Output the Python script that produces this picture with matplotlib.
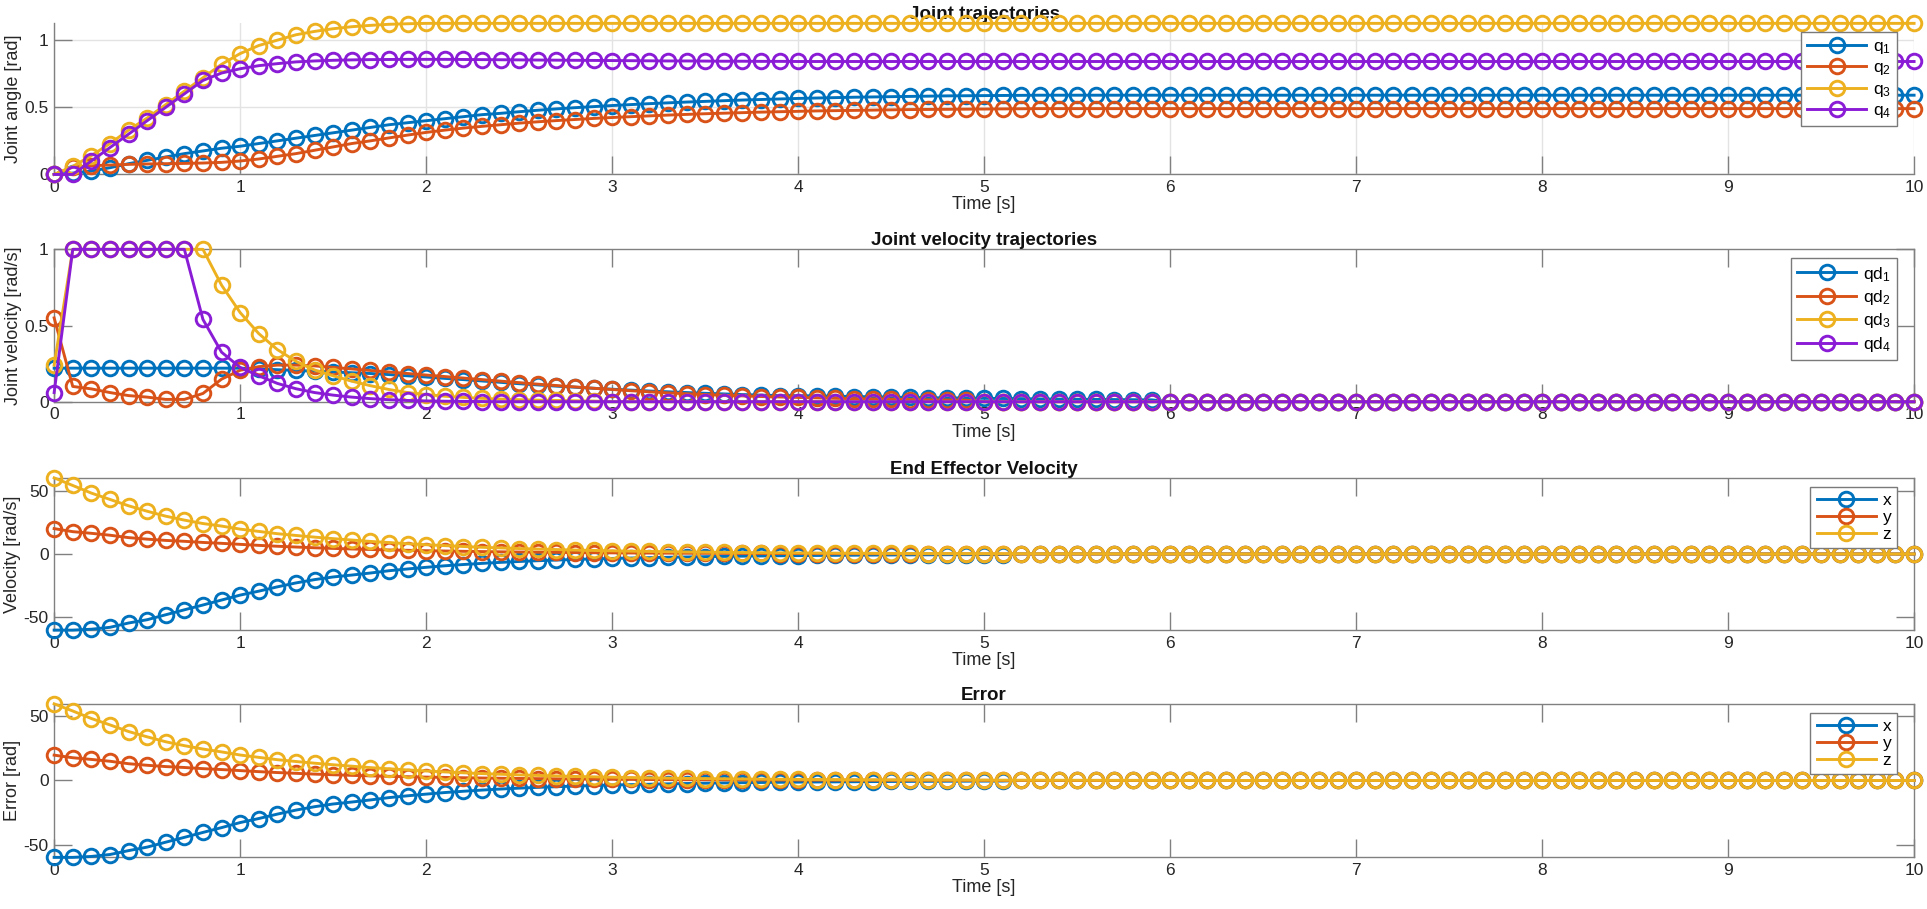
import matplotlib
matplotlib.use("Agg")
import matplotlib.pyplot as plt
import numpy as np
from matplotlib.ticker import FuncFormatter

plt.rcParams['font.family'] = ['Liberation Sans', 'DejaVu Sans']
plt.rcParams['mathtext.default'] = 'regular'

# sample times, 0.1 s step
time = np.round(np.arange(0, 10.05, 0.1), 1)

# joint angles [rad]
q1 = [0.0, 0.01, 0.025, 0.05, 0.08, 0.105, 0.13, 0.155, 0.175, 0.195,
      0.21, 0.23, 0.25, 0.27, 0.29, 0.31, 0.33, 0.35, 0.37, 0.385,
      0.40, 0.415, 0.43, 0.445, 0.455, 0.467, 0.478, 0.488, 0.497, 0.505,
      0.513, 0.52, 0.527, 0.533, 0.539, 0.544, 0.549, 0.554, 0.558, 0.562,
      0.566, 0.569, 0.572, 0.575, 0.577, 0.579, 0.581, 0.583, 0.585, 0.586,
      0.587, 0.588, 0.589] + [0.59] * 48
q2 = [0.0, 0.055, 0.065, 0.07, 0.075, 0.078, 0.08, 0.082, 0.085, 0.09,
      0.10, 0.115, 0.135, 0.155, 0.18, 0.205, 0.23, 0.25, 0.272, 0.293,
      0.313, 0.33, 0.345, 0.358, 0.37, 0.382, 0.392, 0.401, 0.409, 0.417,
      0.424, 0.43, 0.436, 0.442, 0.447, 0.452, 0.456, 0.46, 0.464, 0.467,
      0.47, 0.473, 0.475, 0.477, 0.479, 0.481, 0.483, 0.484, 0.485, 0.486,
      0.487, 0.488, 0.489] + [0.49] * 48
q3 = [0.0, 0.06, 0.14, 0.23, 0.33, 0.42, 0.52, 0.62, 0.72, 0.82,
      0.90, 0.96, 1.0, 1.04, 1.065, 1.085, 1.10, 1.11, 1.118, 1.122] + [1.125] * 81
q4 = [0.0, 0.0, 0.1, 0.2, 0.3, 0.4, 0.5, 0.6, 0.7, 0.755,
      0.787, 0.81, 0.825, 0.838, 0.845, 0.85, 0.853, 0.855, 0.856, 0.857,
      0.857, 0.857, 0.856, 0.855, 0.854, 0.853, 0.852, 0.851, 0.85, 0.849,
      0.848, 0.847, 0.846, 0.845, 0.845, 0.844, 0.843, 0.843, 0.842, 0.842] + [0.841] * 61

# joint velocities [rad/s]
qd1 = [0.22, 0.22, 0.22, 0.22, 0.22, 0.22, 0.22, 0.22, 0.22, 0.22,
       0.22, 0.215, 0.21, 0.205, 0.2, 0.195, 0.19, 0.185, 0.178, 0.17,
       0.162, 0.153, 0.145, 0.136, 0.127, 0.118, 0.11, 0.102, 0.095, 0.088,
       0.082, 0.076, 0.07, 0.065, 0.06, 0.055, 0.051, 0.047, 0.043, 0.04,
       0.04, 0.038, 0.036, 0.034, 0.032, 0.03, 0.028, 0.026, 0.025, 0.024,
       0.022, 0.021, 0.02, 0.018, 0.017, 0.016, 0.015, 0.014, 0.013, 0.012] + [0.0] * 41
qd2 = [0.55, 0.10, 0.084, 0.06, 0.04, 0.03, 0.015, 0.015, 0.054, 0.148,
       0.206, 0.23, 0.24, 0.24, 0.235, 0.225, 0.215, 0.205, 0.195, 0.185,
       0.175, 0.165, 0.155, 0.145, 0.135, 0.125, 0.115, 0.106, 0.097, 0.088,
       0.08, 0.072, 0.065, 0.058, 0.052, 0.047, 0.042, 0.038, 0.034, 0.031,
       0.028, 0.025, 0.022, 0.02, 0.018, 0.016, 0.014, 0.012, 0.011, 0.01] + [0.0] * 51
qd3 = [0.24, 1.0, 1.0, 1.0, 1.0, 1.0, 1.0, 1.0, 1.0, 0.765,
       0.585, 0.447, 0.342, 0.265, 0.208, 0.17, 0.135, 0.105, 0.08, 0.06,
       0.047, 0.036, 0.028, 0.022, 0.017, 0.013, 0.01, 0.008, 0.006, 0.004] + [0.0] * 71
qd4 = [0.06, 1.0, 1.0, 1.0, 1.0, 1.0, 1.0, 1.0, 0.54, 0.325,
       0.225, 0.17, 0.12, 0.085, 0.06, 0.043, 0.03, 0.02, 0.013, 0.008,
       0.005, 0.003, 0.002, 0.001] + [0.0] * 77

# end effector velocity
vel_x = [-60, -60, -59.3, -57.8, -54.4, -51.8, -47.9, -44, -40.2, -36.3,
         -32.4, -29.3, -25.9, -22.8, -20.2, -18.1, -16.6, -15, -13.2, -11.8,
         -10.5, -9.3, -8.3, -7.4, -6.6, -5.9, -5.3, -4.8, -4.3, -3.9,
         -3.5, -3.2, -2.9, -2.6, -2.35, -2.1, -1.9, -1.7, -1.55, -1.4,
         -1.27, -1.15, -1.05, -0.95, -0.86, -0.78, -0.71, -0.64, -0.58, -0.53,
         -0.48, -0.44] + [0.0] * 49
vel_y = [20, 17.6, 16.3, 14.8, 12.9, 11.7, 10.7, 10.0, 9.1, 8.4,
         7.6, 6.8, 6.1, 5.5, 4.9, 4.4, 3.95, 3.55, 3.2, 2.9,
         2.6, 2.35, 2.1, 1.9, 1.7, 1.55, 1.4, 1.25, 1.12, 1.0,
         0.9, 0.81, 0.73, 0.66, 0.59, 0.53, 0.48, 0.43, 0.39, 0.35,
         0.31, 0.28, 0.25, 0.23, 0.2, 0.18, 0.16, 0.15, 0.13, 0.12,
         0.11] + [0.0] * 50
vel_z = [60, 54, 48, 43, 38, 33.7, 29.8, 26.7, 24, 22,
         19.6, 17.8, 16, 14.6, 13.3, 12.1, 11, 9.9, 9, 8.1,
         7.3, 6.6, 5.9, 5.3, 4.8, 4.3, 3.9, 3.5, 3.1, 2.8,
         2.5, 2.25, 2.0, 1.8, 1.6, 1.45, 1.3, 1.15, 1.03, 0.92,
         0.82, 0.73, 0.65, 0.58, 0.52, 0.46, 0.41, 0.37, 0.33, 0.29,
         0.26, 0.23, 0.2, 0.18, 0.16, 0.14, 0.12, 0.1, 0.08, 0.06,
         0.05, 0.04, 0.03, 0.02, 0.01] + [0.0] * 36

# error
err_x = [-59.2, -59.2, -58.5, -57, -54, -51.3, -47.5, -43.8, -40, -36.3,
         -32.4, -29.3, -25.9, -22.8, -20.2, -18.1, -16.6, -15, -13.2, -11.8,
         -10.5, -9.3, -8.3, -7.4, -6.6, -5.9, -5.3, -4.8, -4.3, -3.9,
         -3.5, -3.2, -2.9, -2.6, -2.35, -2.1, -1.9, -1.7, -1.55, -1.4,
         -1.27, -1.15, -1.05, -0.95, -0.86, -0.78, -0.71, -0.64, -0.58, -0.53,
         -0.48, -0.44] + [0.0] * 49
err_y = [19.5, 17.5, 16.2, 14.8, 12.9, 11.7, 10.7, 10.0, 9.1, 8.4,
         7.6, 6.8, 6.1, 5.5, 4.9, 4.4, 3.95, 3.55, 3.2, 2.9,
         2.6, 2.35, 2.1, 1.9, 1.7, 1.55, 1.4, 1.25, 1.12, 1.0,
         0.9, 0.81, 0.73, 0.66, 0.59, 0.53, 0.48, 0.43, 0.39, 0.35,
         0.31, 0.28, 0.25, 0.23, 0.2, 0.18, 0.16, 0.15, 0.13, 0.12,
         0.11] + [0.0] * 50
err_z = [59, 53.5, 47.7, 42.8, 37.7, 33.6, 29.8, 26.8, 24.2, 22,
         19.6, 17.8, 16, 14.6, 13.3, 12.1, 11, 9.9, 9, 8.1,
         7.3, 6.6, 5.9, 5.3, 4.8, 4.3, 3.9, 3.5, 3.1, 2.8,
         2.5, 2.25, 2.0, 1.8, 1.6, 1.45, 1.3, 1.15, 1.03, 0.92,
         0.82, 0.73, 0.65, 0.58, 0.52, 0.46, 0.41, 0.37, 0.33, 0.29,
         0.26, 0.23, 0.2, 0.18, 0.16, 0.14, 0.12, 0.1, 0.08, 0.06,
         0.05, 0.04, 0.03, 0.02, 0.01] + [0.0] * 36

joint_labels = [r'$q_1$', r'$q_2$', r'$q_3$', r'$q_4$']
jvel_labels = [r'$qd_1$', r'$qd_2$', r'$qd_3$', r'$qd_4$']
xyz_labels = ['x', 'y', 'z']

colors = ['#0072BD', '#D95319', '#EDB120', '#8A1CD6']
axis_gray = '#808080'
text_col = '#262626'

fig = plt.figure(figsize=(19.27, 9.09), dpi=100)
positions = [[0.0281, 0.8081, 0.9652, 0.1662],
             [0.0281, 0.5581, 0.9652, 0.1676],
             [0.0281, 0.3068, 0.9652, 0.1675],
             [0.0281, 0.0568, 0.9652, 0.1689]]

panels = [
    ("Joint trajectories", "Joint angle [rad]", [q1, q2, q3, q4], joint_labels, [0, 0.5, 1]),
    ("Joint velocity trajectories", "Joint velocity [rad/s]", [qd1, qd2, qd3, qd4], jvel_labels, [0, 0.5, 1]),
    ("End Effector Velocity", "Velocity [rad/s]", [vel_x, vel_y, vel_z], xyz_labels, [-50, 0, 50]),
    ("Error", "Error [rad]", [err_x, err_y, err_z], xyz_labels, [-50, 0, 50]),
]

fmt = FuncFormatter(lambda v, p: '%g' % v)

for i, (title, ylabel, series, labels, yticks) in enumerate(panels):
    ax = fig.add_axes(positions[i])
    for j, s in enumerate(series):
        ax.plot(time, s, '-o', color=colors[j], lw=2.1, ms=10.5, mfc='none', mew=2.1,
                label=labels[j], clip_on=False, zorder=3 + j)
    allv = np.concatenate([np.asarray(s, float) for s in series])
    ax.set_xlim(0, 10)
    ax.set_ylim(allv.min(), allv.max())
    ax.set_xticks(range(0, 11))
    ax.set_yticks(yticks)
    ax.xaxis.set_major_formatter(fmt)
    ax.yaxis.set_major_formatter(fmt)
    box = i > 0
    for side in ['top', 'right']:
        ax.spines[side].set_visible(box)
    for sp in ax.spines.values():
        sp.set_color(axis_gray)
        sp.set_linewidth(1)
    ax.tick_params(direction='in', length=13, width=1, color=axis_gray,
                   labelcolor=text_col, labelsize=12.5, pad=4,
                   top=box, right=box)
    if i == 0:
        ax.grid(True, color='#e3e3e3', lw=1)
        ax.set_axisbelow(True)
    ax.set_title(title, fontsize=13.5, fontweight='bold', color='#111111', pad=3)
    ax.set_xlabel('Time [s]', fontsize=13, color=text_col, labelpad=1)
    ax.set_ylabel(ylabel, fontsize=13, color=text_col, labelpad=2)
    leg = ax.legend(loc='upper right', bbox_to_anchor=(0.991, 0.94), borderaxespad=0,
                    fontsize=12.5, fancybox=False, framealpha=1, edgecolor='#7a7a7a',
                    handlelength=3.4, handletextpad=0.4,
                    labelspacing=0.25 if len(series) == 4 else 0.1,
                    borderpad=0.35)
    leg.get_frame().set_linewidth(1)
    leg.set_zorder(10)

fig.savefig('out.png', dpi=100)
